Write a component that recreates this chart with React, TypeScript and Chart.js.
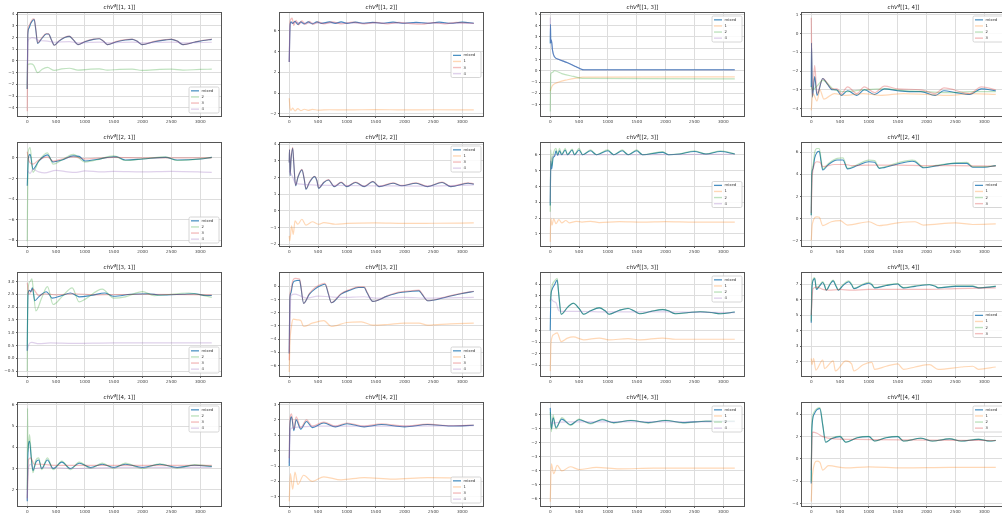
import React, { useEffect, useRef } from 'react';
import { Chart, registerables } from 'chart.js';
Chart.register(...registerables);

type Pt = [number, number];

const xTicks = [0, 500, 1000, 1500, 2000, 2500, 3000];

// ---- row 1 ----
const p11_mixed: Pt[] = [[0,-2.4],[10,2.2],[30,2.8],[60,3.2],[100,3.5],[120,3.55],[150,2.6],[180,1.5],[250,1.9],[330,2.3],[370,2.3],[420,1.8],[470,1.35],[550,1.7],[650,2.0],[730,2.1],[800,1.8],[880,1.4],[1000,1.65],[1150,1.85],[1250,1.9],[1320,1.7],[1390,1.4],[1550,1.65],[1700,1.8],[1820,1.85],[1900,1.7],[1990,1.4],[2200,1.65],[2400,1.8],[2500,1.85],[2600,1.7],[2700,1.4],[2900,1.6],[3050,1.75],[3200,1.85]];
const p11_s2: Pt[] = [[0,-2.4],[8,-0.3],[60,-0.25],[110,-0.35],[180,-1.0],[260,-0.7],[350,-0.55],[470,-0.8],[600,-0.68],[730,-0.62],[880,-0.78],[1100,-0.7],[1250,-0.68],[1390,-0.78],[1600,-0.72],[1820,-0.7],[1990,-0.8],[2300,-0.72],[2500,-0.7],[2700,-0.78],[3000,-0.72],[3200,-0.7]];
const p11_s3: Pt[] = [[0,-4.3],[10,2.4],[30,3.0],[60,3.3],[100,3.6],[120,3.6],[150,2.7],[180,1.55],[250,1.95],[330,2.35],[370,2.32],[420,1.8],[470,1.35],[550,1.72],[650,2.03],[730,2.12],[800,1.8],[880,1.4],[1000,1.67],[1150,1.87],[1250,1.92],[1320,1.7],[1390,1.4],[1550,1.67],[1700,1.82],[1820,1.87],[1900,1.7],[1990,1.4],[2200,1.67],[2400,1.82],[2500,1.86],[2600,1.7],[2700,1.4],[2900,1.62],[3050,1.77],[3200,1.86]];
const p11_s4: Pt[] = [[0,-2.4],[10,1.6],[40,1.9],[80,2.0],[130,1.95],[200,1.75],[350,1.7],[470,1.6],[730,1.65],[880,1.55],[1250,1.62],[1390,1.55],[1820,1.62],[1990,1.55],[2500,1.62],[2700,1.55],[3200,1.6]];

const p12_mixed: Pt[] = [[0,3.0],[15,6.5],[30,6.85],[60,6.7],[100,6.9],[150,6.6],[200,6.85],[260,6.65],[330,6.85],[400,6.65],[480,6.85],[560,6.7],[700,6.85],[800,6.7],[900,6.85],[1000,6.7],[1150,6.82],[1300,6.72],[1450,6.8],[1600,6.72],[1800,6.82],[2000,6.72],[2200,6.8],[2400,6.72],[2600,6.82],[2800,6.72],[3000,6.82],[3200,6.72]];
const p12_s1: Pt[] = [[0,-0.5],[15,-1.5],[30,-1.65],[60,-1.45],[100,-1.7],[150,-1.5],[200,-1.68],[260,-1.55],[330,-1.65],[400,-1.56],[500,-1.64],[700,-1.6],[1000,-1.62],[1500,-1.58],[2000,-1.62],[2500,-1.6],[3200,-1.62]];
const p12_s3: Pt[] = [[0,3.0],[15,6.9],[50,7.2],[80,6.5],[120,7.0],[160,6.55],[220,6.95],[280,6.6],[350,6.9],[420,6.6],[500,6.85],[600,6.65],[750,6.85],[900,6.65],[1100,6.82],[1300,6.65],[1500,6.8],[1700,6.65],[1900,6.8],[2100,6.68],[2300,6.62],[2500,6.78],[2700,6.65],[2900,6.8],[3200,6.7]];
const p12_s4: Pt[] = [[0,3.0],[15,6.6],[40,6.75],[100,6.8],[200,6.75],[400,6.72],[800,6.75],[1500,6.72],[2500,6.72],[3200,6.7]];

const p13_mixed: Pt[] = [[0,2.4],[5,4.1],[10,2.5],[20,2.7],[40,1.8],[70,1.25],[150,1.0],[300,0.7],[450,0.35],[560,0.1],[620,0.08],[3200,0.08]];
const p13_s1: Pt[] = [[0,-1.8],[20,-1.5],[40,-1.3],[150,-1.0],[300,-0.8],[450,-0.65],[560,-0.57],[3200,-0.55]];
const p13_s2: Pt[] = [[0,-3.6],[10,-0.3],[40,-0.15],[70,0.0],[200,-0.25],[400,-0.5],[560,-0.68],[3200,-0.72]];
const p13_s4: Pt[] = [[0,4.7],[5,2.6],[10,2.5],[20,2.7],[40,1.8],[70,1.25],[150,1.0],[300,0.7],[450,0.35],[560,0.1],[620,0.08],[3200,0.08]];

const p14_mixed: Pt[] = [[0,-2.85],[5,-0.5],[20,-3.4],[60,-2.3],[100,-3.3],[200,-2.4],[280,-2.7],[366,-3.0],[440,-3.0],[520,-3.3],[630,-3.05],[790,-3.3],[920,-3.0],[1100,-3.25],[1270,-2.95],[1500,-3.05],[1700,-3.1],[1900,-3.1],[2150,-3.3],[2300,-3.05],[2500,-3.15],[2750,-3.25],[2950,-2.95],[3200,-3.05]];
const p14_s1: Pt[] = [[0,-4.1],[30,-3.2],[100,-3.6],[150,-3.0],[220,-3.5],[400,-3.2],[600,-3.3],[900,-3.2],[1200,-3.3],[1600,-3.2],[2000,-3.25],[2400,-3.3],[2800,-3.2],[3200,-3.25]];
const p14_s2: Pt[] = [[0,-2.8],[20,-3.0],[100,-2.8],[200,-2.5],[400,-3.0],[600,-3.1],[900,-3.0],[1300,-2.95],[1600,-3.05],[2000,-3.1],[2400,-3.15],[2800,-3.1],[3200,-3.1]];
const p14_s3: Pt[] = [[0,0.85],[20,-3.3],[60,-1.7],[100,-3.2],[200,-2.4],[366,-2.95],[450,-2.95],[520,-3.2],[630,-2.85],[790,-3.2],[920,-2.85],[1100,-3.15],[1270,-2.8],[1500,-2.95],[1900,-3.0],[2150,-3.2],[2300,-2.9],[2750,-3.2],[2950,-2.85],[3200,-3.0]];

// ---- row 2 ----
const p21_mixed: Pt[] = [[0,-2.7],[20,0.0],[50,0.35],[100,-1.1],[200,-0.3],[350,0.3],[450,-0.4],[600,-0.2],[800,0.2],[900,0.15],[1000,-0.3],[1200,-0.15],[1500,0.1],[1550,0.1],[1700,-0.2],[2000,-0.1],[2400,0.05],[2600,-0.2],[3000,-0.1],[3200,0.05]];
const p21_s2: Pt[] = [[0,-8.1],[15,0.5],[50,1.0],[100,-1.4],[200,-0.3],[350,0.5],[450,-0.6],[600,-0.2],[800,0.35],[1000,-0.4],[1200,-0.2],[1500,0.2],[1700,-0.25],[2000,-0.1],[2400,0.1],[2600,-0.25],[3000,-0.1],[3200,0.05]];
const p21_s3: Pt[] = [[0,0.6],[30,-0.3],[100,-0.6],[200,-0.2],[350,0.1],[450,-0.3],[600,-0.1],[800,0.1],[1000,-0.1],[1500,0.05],[2000,0.0],[3200,0.0]];
const p21_s4: Pt[] = [[0,-1.2],[50,-1.5],[100,-1.1],[200,-1.35],[300,-1.45],[500,-1.2],[700,-1.35],[850,-1.4],[1000,-1.25],[1300,-1.35],[1500,-1.3],[2000,-1.35],[2500,-1.3],[3200,-1.4]];

const p22_mixed: Pt[] = [[0,2.9],[5,3.65],[15,2.1],[30,3.0],[60,3.75],[80,2.8],[110,1.5],[150,2.0],[220,2.45],[260,1.9],[290,1.3],[350,1.7],[440,2.05],[480,1.8],[510,1.35],[600,1.7],[680,1.85],[780,1.45],[900,1.7],[1000,1.45],[1150,1.7],[1300,1.45],[1450,1.75],[1560,1.45],[1800,1.65],[1950,1.5],[2200,1.65],[2400,1.45],[2650,1.7],[2800,1.45],[3100,1.65],[3200,1.6]];
const p22_s1: Pt[] = [[0,-1.5],[10,-1.8],[40,-0.9],[70,-1.4],[100,-0.6],[150,-0.8],[220,-0.5],[290,-0.85],[400,-0.65],[510,-0.8],[600,-0.7],[800,-0.8],[1000,-0.75],[1500,-0.72],[2000,-0.75],[2500,-0.74],[3200,-0.72]];
const p22_s3: Pt[] = [[0,2.9],[5,3.7],[15,2.15],[30,3.05],[60,3.8],[80,2.85],[110,1.52],[150,2.02],[220,2.48],[260,1.92],[290,1.32],[350,1.72],[440,2.07],[480,1.82],[510,1.37],[600,1.72],[680,1.87],[780,1.47],[900,1.72],[1000,1.47],[1150,1.72],[1300,1.47],[1450,1.77],[1560,1.47],[1800,1.67],[1950,1.52],[2200,1.67],[2400,1.47],[2650,1.72],[2800,1.47],[3100,1.67],[3200,1.62]];
const p22_s4: Pt[] = [[0,2.4],[50,2.1],[100,1.7],[200,1.6],[400,1.55],[800,1.52],[1500,1.5],[2400,1.48],[3200,1.55]];

const p23_mixed: Pt[] = [[0,2.8],[10,5.6],[25,5.1],[50,5.8],[75,5.9],[100,6.25],[130,5.95],[160,6.25],[200,6.0],[260,6.3],[300,6.0],[380,6.3],[420,6.0],[500,6.3],[560,6.0],[700,6.25],[800,6.0],[1000,6.25],[1100,6.0],[1250,6.25],[1350,6.0],[1500,6.25],[1600,6.0],[1950,6.15],[2050,6.0],[2250,6.05],[2500,6.2],[2700,6.05],[2950,6.2],[3200,6.05]];
const p23_s1: Pt[] = [[0,0.5],[10,2.0],[30,1.55],[60,1.95],[100,1.65],[150,1.9],[200,1.7],[270,1.85],[330,1.7],[450,1.8],[550,1.75],[700,1.8],[850,1.72],[1200,1.78],[1600,1.75],[2000,1.78],[2500,1.75],[3200,1.75]];
const p23_s2: Pt[] = [[0,2.4],[10,6.3],[25,5.3],[50,6.0],[100,6.4],[130,6.0],[160,6.4],[200,6.0],[260,6.4],[300,6.0],[380,6.35],[420,6.0],[500,6.4],[560,6.0],[700,6.3],[800,6.0],[1000,6.3],[1100,6.0],[1250,6.3],[1350,6.0],[1500,6.3],[1600,6.0],[1950,6.2],[2050,6.0],[2250,6.05],[2500,6.25],[2700,6.05],[2950,6.25],[3200,6.05]];
const p23_s4: Pt[] = [[0,3.0],[10,5.5],[50,5.9],[100,6.0],[300,6.0],[800,6.0],[1600,6.0],[3200,6.03]];

const p24_mixed: Pt[] = [[0,0.3],[10,4.0],[30,4.5],[60,5.5],[100,6.0],[140,6.1],[170,5.2],[200,4.4],[300,4.9],[450,5.3],[550,5.3],[630,4.5],[800,4.8],[1000,5.15],[1100,5.1],[1180,4.55],[1500,4.95],[1750,5.2],[1800,5.15],[1950,4.6],[2200,4.8],[2500,5.0],[2700,5.0],[2800,4.65],[3000,4.65],[3200,4.8]];
const p24_s1: Pt[] = [[0,-2.0],[20,-0.5],[100,0.15],[140,0.1],[200,-0.65],[350,-0.3],[500,-0.2],[630,-0.6],[1000,-0.3],[1180,-0.65],[1500,-0.4],[1800,-0.3],[1950,-0.6],[2500,-0.4],[2800,-0.55],[3200,-0.5]];
const p24_s2: Pt[] = [[0,0.3],[10,4.2],[30,4.8],[60,6.0],[100,6.35],[140,6.35],[170,5.4],[200,4.5],[300,5.0],[450,5.45],[550,5.5],[630,4.55],[800,4.9],[1000,5.3],[1100,5.25],[1180,4.6],[1500,5.05],[1750,5.3],[1800,5.25],[1950,4.65],[2200,4.85],[2500,5.05],[2700,5.1],[2800,4.7],[3000,4.7],[3200,4.8]];
const p24_s3: Pt[] = [[0,0.5],[20,4.0],[100,5.15],[150,5.1],[200,4.7],[400,4.9],[600,4.9],[700,4.8],[1000,4.85],[1500,4.85],[2000,4.8],[2500,4.8],[3200,4.75]];

// ---- row 3 ----
const p31_mixed: Pt[] = [[0,0.3],[5,1.5],[15,2.55],[40,2.65],[60,2.6],[90,2.75],[110,2.5],[130,2.25],[200,2.4],[330,2.6],[380,2.5],[430,2.35],[600,2.45],[750,2.55],[850,2.45],[900,2.4],[1100,2.45],[1350,2.55],[1500,2.42],[1800,2.5],[2100,2.52],[2300,2.47],[2700,2.5],[2900,2.52],[3100,2.45],[3200,2.45]];
const p31_s2: Pt[] = [[0,-0.5],[10,2.6],[50,3.0],[80,3.1],[100,2.8],[150,1.85],[250,2.35],[350,2.8],[450,2.1],[600,2.4],[780,2.75],[900,2.2],[1000,2.3],[1300,2.7],[1500,2.35],[1700,2.4],[2000,2.6],[2200,2.45],[2800,2.55],[3200,2.38]];
const p31_s3: Pt[] = [[0,2.95],[30,2.5],[100,2.7],[200,2.45],[300,2.52],[500,2.48],[800,2.52],[1200,2.48],[2000,2.5],[3200,2.48]];
const p31_s4: Pt[] = [[0,0.3],[30,0.55],[80,0.62],[200,0.57],[400,0.6],[800,0.58],[1500,0.6],[3200,0.6]];

const p32_mixed: Pt[] = [[0,-5.1],[10,-1.0],[30,-0.5],[60,0.2],[100,0.4],[180,0.45],[200,0.0],[250,-1.3],[350,-0.6],[450,-0.2],[550,0.05],[620,0.15],[680,-0.6],[730,-1.25],[900,-0.6],[1050,-0.3],[1200,-0.1],[1300,-0.1],[1350,-0.5],[1450,-1.15],[1700,-0.75],[1900,-0.5],[2100,-0.4],[2250,-0.35],[2300,-0.6],[2400,-1.1],[2700,-0.85],[3000,-0.55],[3200,-0.4]];
const p32_s1: Pt[] = [[0,-6.5],[10,-4.5],[40,-3.0],[70,-2.5],[150,-2.55],[200,-2.6],[250,-3.05],[400,-2.8],[600,-2.6],[730,-3.05],[1000,-2.75],[1250,-2.7],[1450,-2.95],[1700,-2.9],[2000,-2.8],[2250,-2.8],[2400,-2.95],[2800,-2.85],[3200,-2.8]];
const p32_s3: Pt[] = [[0,-5.6],[10,-0.9],[30,-0.3],[60,0.4],[100,0.6],[180,0.55],[200,0.1],[250,-1.3],[350,-0.55],[450,-0.1],[550,0.15],[620,0.22],[680,-0.55],[730,-1.25],[900,-0.55],[1050,-0.25],[1200,-0.05],[1300,-0.05],[1350,-0.45],[1450,-1.15],[1700,-0.72],[1900,-0.45],[2100,-0.35],[2250,-0.3],[2300,-0.55],[2400,-1.1],[2700,-0.82],[3000,-0.52],[3200,-0.38]];
const p32_s4: Pt[] = [[0,-5.0],[30,-0.7],[100,-0.6],[200,-0.75],[300,-0.9],[500,-0.75],[700,-0.8],[900,-0.85],[1300,-0.8],[1500,-0.9],[2000,-0.85],[2400,-0.9],[3200,-0.85]];

const p33_mixed: Pt[] = [[0,0.0],[10,2.8],[30,3.5],[80,4.0],[120,4.35],[150,3.0],[190,1.4],[300,2.0],[400,2.35],[500,1.9],[580,1.4],[700,1.7],[850,1.95],[950,1.7],[1020,1.4],[1200,1.75],[1350,1.9],[1450,1.7],[1550,1.45],[1750,1.65],[1950,1.8],[2050,1.7],[2170,1.45],[2400,1.55],[2600,1.62],[2800,1.55],[2950,1.45],[3200,1.6]];
const p33_s1: Pt[] = [[0,-3.5],[15,-1.0],[60,-0.35],[120,-0.2],[190,-0.95],[300,-0.65],[400,-0.55],[580,-0.8],[850,-0.65],[1020,-0.8],[1350,-0.7],[1550,-0.8],[1950,-0.65],[2170,-0.75],[3200,-0.75]];
const p33_s2: Pt[] = [[0,2.5],[30,3.8],[80,4.3],[120,4.5],[150,3.1],[190,1.4],[300,2.0],[400,2.37],[500,1.9],[580,1.4],[700,1.7],[850,1.97],[950,1.7],[1020,1.4],[1200,1.75],[1350,1.92],[1450,1.7],[1550,1.45],[1750,1.65],[1950,1.82],[2050,1.7],[2170,1.45],[2400,1.55],[2600,1.63],[2800,1.55],[2950,1.45],[3200,1.6]];
const p33_s4: Pt[] = [[0,2.8],[20,2.7],[60,2.5],[100,2.4],[150,1.7],[200,1.65],[500,1.65],[1000,1.6],[2000,1.6],[3200,1.55]];

const p34_mixed: Pt[] = [[0,4.5],[10,6.5],[30,7.2],[60,7.35],[90,6.65],[150,6.9],[200,7.1],[230,6.9],[260,6.6],[330,7.0],[380,7.2],[430,6.85],[470,6.6],[550,6.9],[650,7.15],[700,6.95],[740,6.7],[900,6.95],[1000,7.05],[1050,6.95],[1100,6.75],[1300,6.9],[1500,7.0],[1550,6.85],[1600,6.75],[1800,6.85],[2050,6.95],[2150,6.85],[2200,6.75],[2500,6.85],[2800,6.85],[2900,6.75],[3100,6.8],[3200,6.85]];
const p34_s1: Pt[] = [[0,2.2],[15,1.8],[40,2.2],[80,1.45],[200,2.1],[230,1.55],[380,2.05],[420,1.4],[600,2.05],[700,1.85],[740,1.4],[900,1.8],[1050,1.95],[1100,1.5],[1300,1.7],[1500,1.85],[1600,1.5],[1800,1.65],[2050,1.8],[2200,1.5],[2600,1.65],[2800,1.7],[2900,1.5],[3200,1.65]];
const p34_s2: Pt[] = [[0,4.6],[10,6.7],[30,7.3],[60,7.42],[90,6.7],[150,6.95],[200,7.15],[230,6.95],[260,6.62],[330,7.05],[380,7.25],[430,6.9],[470,6.62],[550,6.95],[650,7.2],[700,7.0],[740,6.72],[900,7.0],[1000,7.1],[1050,7.0],[1100,6.77],[1300,6.93],[1500,7.03],[1550,6.88],[1600,6.77],[1800,6.88],[2050,6.97],[2150,6.87],[2200,6.77],[2500,6.88],[2800,6.88],[2900,6.77],[3100,6.82],[3200,6.86]];
const p34_s3: Pt[] = [[0,5.0],[30,6.7],[100,6.8],[200,6.65],[300,6.6],[500,6.65],[700,6.6],[1000,6.65],[1500,6.65],[2000,6.65],[2500,6.7],[3200,6.75]];

// ---- row 4 ----
const p41_mixed: Pt[] = [[0,1.45],[10,3.5],[40,4.3],[70,3.5],[100,2.9],[150,3.3],[200,3.4],[250,3.0],[350,3.4],[450,3.0],[600,3.3],[750,3.0],[900,3.25],[1100,3.05],[1300,3.2],[1500,3.05],[1700,3.2],[2000,3.05],[2300,3.2],[2600,3.05],[2900,3.15],[3200,3.1]];
const p41_s2: Pt[] = [[0,2.0],[5,5.85],[12,3.8],[40,4.6],[70,3.6],[100,2.8],[150,3.4],[200,3.5],[250,2.95],[350,3.5],[450,2.95],[600,3.35],[750,2.95],[900,3.3],[1100,3.0],[1300,3.25],[1500,3.0],[1700,3.25],[2000,3.0],[2300,3.22],[2600,3.02],[2900,3.18],[3200,3.1]];
const p41_s3: Pt[] = [[0,1.6],[20,3.4],[60,3.5],[120,3.2],[250,3.2],[500,3.15],[1000,3.15],[2000,3.15],[3200,3.15]];
const p41_s4: Pt[] = [[0,1.5],[20,3.0],[60,3.2],[120,3.0],[300,3.05],[800,3.0],[1600,3.05],[3200,3.05]];

const p42_mixed: Pt[] = [[0,-1.0],[10,1.5],[40,2.2],[80,1.3],[120,2.0],[200,1.4],[300,1.9],[400,1.5],[600,1.8],[800,1.55],[1000,1.75],[1300,1.55],[1600,1.7],[2000,1.55],[2400,1.7],[2800,1.6],[3200,1.65]];
const p42_s1: Pt[] = [[0,-3.3],[20,-1.5],[60,-2.5],[100,-1.4],[150,-2.2],[250,-1.6],[400,-2.0],[600,-1.7],[900,-1.9],[1300,-1.75],[1800,-1.85],[2400,-1.75],[3200,-1.8]];
const p42_s3: Pt[] = [[0,-0.5],[10,1.8],[40,2.4],[80,1.4],[120,2.2],[200,1.5],[300,2.0],[400,1.6],[600,1.85],[800,1.6],[1000,1.8],[1300,1.6],[1600,1.75],[2000,1.6],[2400,1.72],[2800,1.62],[3200,1.67]];
const p42_s4: Pt[] = [[0,-0.8],[20,1.4],[80,1.5],[200,1.55],[500,1.6],[1000,1.6],[2000,1.6],[3200,1.62]];

const p43_mixed: Pt[] = [[0,0.5],[20,-1.0],[50,-0.2],[100,-0.9],[200,-0.3],[350,-0.7],[500,-0.35],[700,-0.6],[900,-0.35],[1100,-0.55],[1400,-0.4],[1700,-0.55],[2000,-0.4],[2300,-0.55],[2700,-0.45],[3200,-0.45]];
const p43_s1: Pt[] = [[0,-6.2],[20,-3.5],[60,-4.2],[120,-3.6],[200,-4.0],[350,-3.7],[500,-3.9],[800,-3.75],[1200,-3.85],[1800,-3.8],[2500,-3.8],[3200,-3.8]];
const p43_s2: Pt[] = [[0,0.2],[20,-1.2],[50,0.0],[100,-1.0],[200,-0.2],[350,-0.75],[500,-0.3],[700,-0.65],[900,-0.3],[1100,-0.58],[1400,-0.38],[1700,-0.58],[2000,-0.38],[2300,-0.57],[2700,-0.45],[3200,-0.45]];
const p43_s4: Pt[] = [[0,-0.5],[30,-0.6],[100,-0.55],[300,-0.5],[800,-0.5],[1600,-0.5],[3200,-0.5]];

const p44_mixed: Pt[] = [[0,-2.2],[10,2.5],[50,4.0],[100,4.4],[150,4.5],[200,3.0],[250,1.5],[350,1.8],[500,2.0],[600,1.5],[800,1.9],[1000,2.0],[1100,1.6],[1300,1.9],[1500,2.0],[1600,1.6],[1900,1.85],[2100,1.6],[2400,1.8],[2600,1.6],[2900,1.75],[3100,1.6],[3200,1.65]];
const p44_s1: Pt[] = [[0,-3.8],[20,-1.5],[100,-0.2],[150,-0.3],[200,-1.0],[300,-0.6],[600,-0.8],[1000,-0.7],[1600,-0.8],[2400,-0.75],[3200,-0.75]];
const p44_s2: Pt[] = [[0,-2.0],[10,2.8],[50,4.2],[100,4.5],[150,4.6],[200,3.1],[250,1.5],[350,1.85],[500,2.05],[600,1.5],[800,1.92],[1000,2.02],[1100,1.6],[1300,1.92],[1500,2.02],[1600,1.6],[1900,1.87],[2100,1.6],[2400,1.82],[2600,1.6],[2900,1.77],[3100,1.6],[3200,1.66]];
const p44_s3: Pt[] = [[0,-1.0],[20,2.4],[100,2.3],[200,2.0],[400,1.8],[800,1.75],[1600,1.7],[3200,1.65]];

// ---- y tick labels ----
const yt11 = [-4, -3, -2, -1, 0, 1, 2, 3, 4];
const yt12 = [-2, 0, 2, 4, 6];
const yt13 = [-3, -2, -1, 0, 1, 2, 3, 4, 5];
const yt14 = [-4, -3, -2, -1, 0, 1];
const yt21 = [-8, -6, -4, -2, 0];
const yt22 = [-2, -1, 0, 1, 2, 3, 4];
const yt23 = [1, 2, 3, 4, 5, 6];
const yt24 = [-2, 0, 2, 4, 6];
const yt31 = [-0.5, 0, 0.5, 1, 1.5, 2, 2.5, 3];
const yt32 = [-6, -5, -4, -3, -2, -1, 0];
const yt33 = [-3, -2, -1, 0, 1, 2, 3, 4];
const yt34 = [2, 3, 4, 5, 6, 7];
const yt41 = [2, 3, 4, 5, 6];
const yt42 = [-3, -2, -1, 0, 1, 2, 3];
const yt43 = [-6, -5, -4, -3, -2, -1, 0];
const yt44 = [-4, -2, 0, 2, 4];

type Cfg = {
  r: number; c: number; yMin: number; yMax: number; yTicks: number[]; dec: number;
  legend: 'lower' | 'upper' | 'center'; series: [string, Pt[]][];
};

const panels: Cfg[] = [
  { r: 0, c: 0, yMin: -4.7, yMax: 4.1, yTicks: yt11, dec: 0, legend: 'lower', series: [['mixed', p11_mixed], ['2', p11_s2], ['3', p11_s3], ['4', p11_s4]] },
  { r: 0, c: 1, yMin: -2.2, yMax: 7.7, yTicks: yt12, dec: 0, legend: 'center', series: [['mixed', p12_mixed], ['1', p12_s1], ['3', p12_s3], ['4', p12_s4]] },
  { r: 0, c: 2, yMin: -4.0, yMax: 5.1, yTicks: yt13, dec: 0, legend: 'upper', series: [['mixed', p13_mixed], ['1', p13_s1], ['2', p13_s2], ['4', p13_s4]] },
  { r: 0, c: 3, yMin: -4.4, yMax: 1.1, yTicks: yt14, dec: 0, legend: 'upper', series: [['mixed', p14_mixed], ['1', p14_s1], ['2', p14_s2], ['3', p14_s3]] },
  { r: 1, c: 0, yMin: -8.55, yMax: 1.45, yTicks: yt21, dec: 0, legend: 'lower', series: [['mixed', p21_mixed], ['2', p21_s2], ['3', p21_s3], ['4', p21_s4]] },
  { r: 1, c: 1, yMin: -2.1, yMax: 4.06, yTicks: yt22, dec: 0, legend: 'upper', series: [['mixed', p22_mixed], ['1', p22_s1], ['3', p22_s3], ['4', p22_s4]] },
  { r: 1, c: 2, yMin: 0.24, yMax: 6.74, yTicks: yt23, dec: 0, legend: 'center', series: [['mixed', p23_mixed], ['1', p23_s1], ['2', p23_s2], ['4', p23_s4]] },
  { r: 1, c: 3, yMin: -2.5, yMax: 6.85, yTicks: yt24, dec: 0, legend: 'center', series: [['mixed', p24_mixed], ['1', p24_s1], ['2', p24_s2], ['3', p24_s3]] },
  { r: 2, c: 0, yMin: -0.69, yMax: 3.33, yTicks: yt31, dec: 1, legend: 'lower', series: [['mixed', p31_mixed], ['2', p31_s2], ['3', p31_s3], ['4', p31_s4]] },
  { r: 2, c: 1, yMin: -6.8, yMax: 1.0, yTicks: yt32, dec: 0, legend: 'lower', series: [['mixed', p32_mixed], ['1', p32_s1], ['3', p32_s3], ['4', p32_s4]] },
  { r: 2, c: 2, yMin: -3.92, yMax: 4.96, yTicks: yt33, dec: 0, legend: 'upper', series: [['mixed', p33_mixed], ['1', p33_s1], ['2', p33_s2], ['4', p33_s4]] },
  { r: 2, c: 3, yMin: 1.07, yMax: 7.71, yTicks: yt34, dec: 0, legend: 'center', series: [['mixed', p34_mixed], ['1', p34_s1], ['2', p34_s2], ['3', p34_s3]] },
  { r: 3, c: 0, yMin: 1.23, yMax: 6.09, yTicks: yt41, dec: 0, legend: 'upper', series: [['mixed', p41_mixed], ['2', p41_s2], ['3', p41_s3], ['4', p41_s4]] },
  { r: 3, c: 1, yMin: -3.6, yMax: 3.1, yTicks: yt42, dec: 0, legend: 'lower', series: [['mixed', p42_mixed], ['1', p42_s1], ['3', p42_s3], ['4', p42_s4]] },
  { r: 3, c: 2, yMin: -6.5, yMax: 0.85, yTicks: yt43, dec: 0, legend: 'upper', series: [['mixed', p43_mixed], ['1', p43_s1], ['2', p43_s2], ['4', p43_s4]] },
  { r: 3, c: 3, yMin: -4.2, yMax: 5.0, yTicks: yt44, dec: 0, legend: 'upper', series: [['mixed', p44_mixed], ['1', p44_s1], ['2', p44_s2], ['3', p44_s3]] },
];

const COLORS: Record<string, string> = {
  mixed: 'rgba(31,119,180,0.85)',
  '1': 'rgba(255,127,14,0.3)',
  '2': 'rgba(44,160,44,0.3)',
  '3': 'rgba(214,39,40,0.3)',
  '4': 'rgba(148,103,189,0.3)',
};

const COL_L = [18, 280, 541, 802];
const ROW_T = [13, 143, 273, 403];
const PW = 203, PH = 103;
const PAD_L = 24, PAD_T = 12, PAD_R = 4, X_H = 12;
const FONT = 'DejaVu Sans';

const fmt = (v: number, dec: number) => {
  const s = dec ? Math.abs(v).toFixed(dec) : String(Math.abs(v));
  return v < 0 ? '\u2212' + s : s;
};

function Panel({ cfg }: { cfg: Cfg }) {
  const ref = useRef<HTMLCanvasElement>(null);
  useEffect(() => {
    const title = `[[${cfg.r + 1}, ${cfg.c + 1}]]`;
    const deco = {
      id: 'deco',
      afterDraw(chart: any) {
        const { ctx, chartArea: a } = chart;
        ctx.save();
        ctx.strokeStyle = '#555';
        ctx.lineWidth = 1;
        ctx.strokeRect(a.left - 0.5, a.top - 0.5, a.right - a.left + 1, a.bottom - a.top + 1);
        const cx = (a.left + a.right) / 2;
        const ty = a.top - 4;
        ctx.fillStyle = '#222';
        ctx.textBaseline = 'alphabetic';
        const f1 = `italic 5.5px ${FONT}`, f2 = `italic 3.8px ${FONT}`, f3 = `5.5px ${FONT}`;
        ctx.font = f1; const w1 = ctx.measureText('chV').width;
        ctx.font = f2; const w2 = ctx.measureText('\u03B2').width;
        ctx.font = f3; const w3 = ctx.measureText(title).width;
        let x = cx - (w1 + w2 + w3) / 2;
        ctx.textAlign = 'left';
        ctx.font = f1; ctx.fillText('chV', x, ty); x += w1;
        ctx.font = f2; ctx.fillText('\u03B2', x, ty - 2.2); x += w2;
        ctx.font = f3; ctx.fillText(title, x, ty);
        const n = cfg.series.length;
        const lh = 6.1, bw = 30, bh = n * lh + 1.6;
        const bx = a.right - 2 - bw;
        let by: number;
        if (cfg.legend === 'lower') by = a.bottom - 3 - bh;
        else if (cfg.legend === 'upper') by = a.top + 3;
        else by = (a.top + a.bottom) / 2 - bh / 2;
        ctx.fillStyle = 'rgba(255,255,255,0.85)';
        ctx.strokeStyle = '#cccccc';
        ctx.lineWidth = 0.8;
        ctx.beginPath();
        if ((ctx as any).roundRect) (ctx as any).roundRect(bx, by, bw, bh, 1.5); else ctx.rect(bx, by, bw, bh);
        ctx.fill(); ctx.stroke();
        ctx.font = `3.8px ${FONT}`;
        ctx.textBaseline = 'middle';
        cfg.series.forEach(([lab], i) => {
          const y = by + 0.8 + lh * (i + 0.5);
          ctx.strokeStyle = COLORS[lab];
          ctx.lineWidth = lab === 'mixed' ? 1.2 : 1.4;
          ctx.beginPath(); ctx.moveTo(bx + 2, y); ctx.lineTo(bx + 10, y); ctx.stroke();
          ctx.fillStyle = '#333';
          ctx.fillText(lab, bx + 12.5, y);
        });
        ctx.restore();
      },
    };
    const datasets = cfg.series.map(([lab, pts], i) => ({
      label: lab,
      data: pts.map(([x, y]) => ({ x, y })),
      borderColor: COLORS[lab],
      borderWidth: lab === 'mixed' ? 1.1 : 1.2,
      pointRadius: 0,
      fill: false,
      cubicInterpolationMode: 'monotone' as const,
      order: lab === 'mixed' ? 10 : 4 - i,
    }));
    const chart = new Chart(ref.current!, {
      type: 'line',
      data: { datasets },
      plugins: [deco],
      options: {
        animation: false,
        responsive: false,
        devicePixelRatio: 1,
        events: [],
        layout: { padding: { top: PAD_T, right: PAD_R, left: 0, bottom: 0 } },
        plugins: { legend: { display: false }, title: { display: false }, tooltip: { enabled: false } },
        scales: {
          x: {
            type: 'linear', min: -160, max: 3360,
            afterBuildTicks: (s: any) => { s.ticks = xTicks.map((v) => ({ value: v })); },
            afterFit: (s: any) => { s.height = X_H; s.paddingLeft = 0; s.paddingRight = 0; s.paddingTop = 0; s.paddingBottom = 0; },
            ticks: { autoSkip: false, maxRotation: 0, minRotation: 0, padding: 1, color: '#444', font: { family: FONT, size: 4.2 }, callback: (v: any) => fmt(Number(v), 0) },
            grid: { color: '#dddddd', lineWidth: 1, tickLength: 2, tickColor: '#666', drawTicks: true },
            border: { display: false },
          },
          y: {
            type: 'linear', min: cfg.yMin, max: cfg.yMax,
            afterBuildTicks: (s: any) => { s.ticks = cfg.yTicks.map((v) => ({ value: v })); },
            afterFit: (s: any) => { s.width = PAD_L; s.paddingTop = 0; s.paddingBottom = 0; s.paddingLeft = 0; s.paddingRight = 0; },
            ticks: { autoSkip: false, padding: 1.5, color: '#444', font: { family: FONT, size: 4.2 }, callback: (v: any) => fmt(Number(v), cfg.dec) },
            grid: { color: '#dddddd', lineWidth: 1, tickLength: 2, tickColor: '#666', drawTicks: true },
            border: { display: false },
          },
        },
      } as any,
    });
    return () => chart.destroy();
  }, [cfg]);
  const w = PAD_L + PW + PAD_R, h = PAD_T + PH + X_H;
  return (
    <canvas
      ref={ref}
      width={w}
      height={h}
      style={{ position: 'absolute', left: COL_L[cfg.c] - PAD_L, top: ROW_T[cfg.r] - PAD_T, width: w, height: h }}
    />
  );
}

export default function App() {
  return (
    <div style={{ position: 'absolute', left: 0, top: 0, width: 1002, height: 516, overflow: 'hidden', background: '#fff' }}>
      {panels.map((p, i) => <Panel key={i} cfg={p} />)}
    </div>
  );
}
